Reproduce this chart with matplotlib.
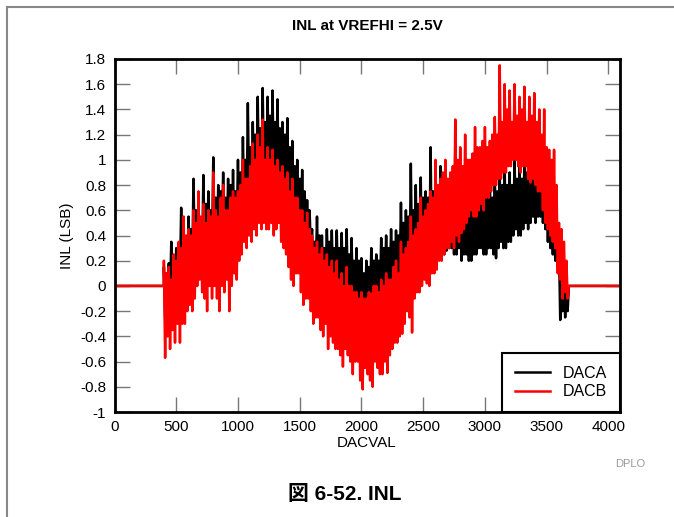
import numpy as np
import matplotlib
matplotlib.use("Agg")
import matplotlib.pyplot as plt

plt.rcParams["font.family"] = ["Liberation Sans", "DejaVu Sans"]

# peak samples sit at codes 400, 420, ..., 3660; trough samples 10 codes later
code_start = 400
code_stop = 3680
code_step = 20
code_full = 4095

daca_hi = [
    0.15, 0.1, 0.18, 0.35, 0.2, 0.3, 0.25, 0.62, 0.4, 0.35,
    0.55, 0.45, 0.85, 0.6, 0.7, 0.5, 0.88, 0.65, 0.75, 0.6,
    1.02, 0.7, 0.8, 0.75, 0.9, 0.7, 0.85, 0.8, 0.92, 0.75,
    1.0, 0.9, 1.18, 1.0, 1.45, 1.1, 1.3, 1.2, 1.5, 1.25,
    1.57, 1.3, 1.5, 1.35, 1.55, 1.3, 1.48, 1.25, 1.3, 1.2,
    1.33, 1.1, 1.15, 0.95, 1.0, 0.85, 0.92, 0.75, 0.68, 0.6,
    0.45, 0.35, 0.55, 0.4, 0.4, 0.3, 0.45, 0.35, 0.44, 0.3,
    0.44, 0.3, 0.42, 0.3, 0.45, 0.25, 0.38, 0.2, 0.3, 0.2,
    0.22, 0.1, 0.2, 0.15, 0.3, 0.2, 0.25, 0.2, 0.38, 0.3,
    0.4, 0.3, 0.45, 0.35, 0.44, 0.4, 0.66, 0.5, 0.6, 0.55,
    0.97, 0.6, 0.8, 0.65, 0.86, 0.7, 0.75, 0.7, 1.1, 0.75,
    0.9, 0.7, 0.95, 0.75, 0.85, 0.7, 0.8, 0.75, 1.1, 0.8,
    0.85, 0.7, 0.75, 0.65, 0.9, 0.7, 0.7, 0.65, 0.82, 0.7,
    0.92, 0.75, 0.85, 0.7, 0.9, 0.75, 0.88, 0.8, 0.94, 0.8,
    0.9, 0.8, 1.02, 0.85, 0.95, 0.85, 1.0, 0.9, 1.38, 1.0,
    1.38, 1.0, 1.3, 0.95, 0.9, 0.8, 0.74, 0.65, 0.6, 0.5,
    0.3, 0.1, 0.05, 0.0,
]
daca_lo = [
    -0.25, 0.0, -0.05, 0.05, 0.0, 0.1, 0.05, 0.1, 0.1, 0.12,
    0.15, 0.2, 0.25, 0.15, 0.2, 0.25, 0.3, 0.2, 0.25, 0.3,
    0.35, 0.3, 0.3, 0.4, 0.4, 0.35, 0.35, 0.4, 0.4, 0.45,
    0.5, 0.55, 0.65, 0.6, 0.7, 0.7, 0.75, 0.7, 0.8, 0.75,
    0.85, 0.8, 0.9, 0.85, 0.8, 0.8, 0.85, 0.75, 0.75, 0.7,
    0.7, 0.65, 0.6, 0.55, 0.5, 0.45, 0.45, 0.4, 0.4, 0.3,
    0.15, 0.1, 0.1, 0.05, 0.05, 0.1, 0.1, 0.0, 0.0, -0.05,
    0.0, -0.05, -0.05, -0.1, -0.05, -0.1, -0.1, -0.15, -0.1, -0.2,
    -0.2, -0.15, -0.15, -0.1, -0.1, -0.05, -0.05, -0.05, -0.05, 0.0,
    0.0, 0.05, 0.05, 0.0, 0.05, 0.1, 0.1, 0.1, 0.15, 0.1,
    0.15, 0.2, 0.2, 0.15, 0.2, 0.25, 0.25, 0.2, 0.2, 0.25,
    0.25, 0.3, 0.3, 0.25, 0.28, 0.3, 0.3, 0.25, 0.25, 0.3,
    0.2, 0.25, 0.25, 0.2, 0.2, 0.25, 0.25, 0.3, 0.3, 0.25,
    0.25, 0.3, 0.3, 0.25, 0.22, 0.3, 0.35, 0.3, 0.3, 0.35,
    0.35, 0.4, 0.45, 0.4, 0.4, 0.45, 0.5, 0.45, 0.5, 0.55,
    0.5, 0.55, 0.55, 0.5, 0.45, 0.35, 0.3, 0.25, 0.2, 0.15,
    -0.27, -0.2, -0.25, -0.2,
]

dacb_hi = [
    0.2, 0.1, 0.15, 0.05, 0.25, 0.2, 0.35, 0.3, 0.55, 0.4,
    0.45, 0.4, 0.6, 0.5, 0.75, 0.55, 0.65, 0.5, 0.6, 0.55,
    0.9, 0.6, 0.55, 0.7, 0.8, 0.6, 0.6, 0.7, 0.75, 0.7,
    0.75, 0.8, 1.0, 0.85, 0.85, 0.95, 1.13, 1.0, 1.2, 1.1,
    1.32, 1.0, 1.1, 1.0, 1.08, 0.95, 1.0, 0.9, 0.95, 0.85,
    0.9, 0.75, 0.85, 0.7, 0.7, 0.6, 0.6, 0.5, 0.58, 0.45,
    0.4, 0.3, 0.35, 0.25, 0.3, 0.2, 0.25, 0.15, 0.2, 0.1,
    0.2, 0.05, 0.1, 0.0, 0.15, 0.0, 0.0, -0.05, -0.05, -0.1,
    -0.05, -0.1, -0.1, -0.05, -0.06, 0.0, 0.0, -0.05, 0.05, 0.0,
    0.1, 0.05, 0.05, 0.15, 0.2, 0.1, 0.35, 0.25, 0.3, 0.35,
    0.55, 0.4, 0.45, 0.5, 0.7, 0.55, 0.6, 0.65, 0.75, 0.7,
    1.0, 0.8, 0.85, 0.9, 1.0, 0.85, 0.9, 0.95, 1.32, 1.0,
    1.1, 0.95, 1.2, 1.0, 1.0, 1.05, 1.26, 1.1, 1.1, 1.15,
    1.26, 1.1, 1.15, 1.2, 1.34, 1.2, 1.75, 1.3, 1.6, 1.4,
    1.55, 1.3, 1.6, 1.35, 1.5, 1.4, 1.58, 1.3, 1.5, 1.35,
    1.53, 1.3, 1.4, 1.2, 1.4, 1.1, 1.08, 1.0, 1.08, 0.8,
    0.5, 0.45, 0.35, 0.2,
]
dacb_lo = [
    -0.57, -0.4, -0.5, -0.35, -0.45, -0.3, -0.45, -0.3, -0.3, -0.2,
    -0.15, -0.2, -0.1, 0.0, 0.05, -0.05, -0.1, -0.2, 0.0, -0.1,
    0.0, -0.1, -0.2, 0.0, -0.05, 0.05, -0.2, 0.0, 0.1, 0.05,
    0.2, 0.25, 0.35, 0.3, 0.4, 0.35, 0.45, 0.4, 0.5, 0.45,
    0.5, 0.45, 0.45, 0.5, 0.4, 0.45, 0.5, 0.35, 0.3, 0.25,
    0.15, 0.05, 0.0, 0.1, 0.1, -0.05, -0.15, -0.1, -0.1, -0.2,
    -0.3, -0.25, -0.25, -0.35, -0.4, -0.3, -0.5, -0.4, -0.45, -0.5,
    -0.5, -0.55, -0.64, -0.5, -0.55, -0.6, -0.7, -0.6, -0.6, -0.75,
    -0.82, -0.65, -0.7, -0.75, -0.8, -0.6, -0.65, -0.7, -0.7, -0.6,
    -0.69, -0.55, -0.5, -0.45, -0.45, -0.4, -0.38, -0.3, -0.2, -0.25,
    -0.37, -0.1, -0.05, -0.05, 0.0, 0.05, 0.02, 0.0, 0.1, 0.1,
    0.13, 0.2, 0.2, 0.25, 0.3, 0.3, 0.35, 0.3, 0.4, 0.35,
    0.42, 0.45, 0.5, 0.55, 0.6, 0.55, 0.55, 0.6, 0.65, 0.6,
    0.7, 0.7, 0.75, 0.8, 0.8, 0.85, 0.85, 0.9, 0.9, 0.95,
    0.95, 1.0, 1.0, 0.95, 0.9, 0.95, 0.95, 0.85, 0.82, 0.85,
    0.8, 0.75, 0.75, 0.6, 0.5, 0.45, 0.4, 0.35, 0.3, 0.1,
    0.05, -0.1, -0.05, -0.1,
]

x_ticks = [0, 500, 1000, 1500, 2000, 2500, 3000, 3500, 4000]
y_ticks = [-1, -0.8, -0.6, -0.4, -0.2, 0, 0.2, 0.4, 0.6, 0.8, 1, 1.2, 1.4, 1.6, 1.8]
y_labels = ["-1", "-0.8", "-0.6", "-0.4", "-0.2", "0", "0.2", "0.4", "0.6",
            "0.8", "1", "1.2", "1.4", "1.6", "1.8"]


def build_trace(hi, lo):
    # interleave peak/trough samples, pad with the flat zero segments
    codes = np.arange(code_start, code_stop, code_step)
    x = np.empty(2 * len(codes))
    y = np.empty(2 * len(codes))
    x[0::2] = codes
    x[1::2] = codes + code_step // 2
    y[0::2] = hi
    y[1::2] = lo
    x = np.concatenate([[0, code_start], x, [code_stop, code_full]])
    y = np.concatenate([[0.0, 0.0], y, [0.0, 0.0]])
    return x, y


fig = plt.figure(figsize=(6.74, 5.17), dpi=100)
ax = fig.add_axes([114.5 / 674, 1 - 412 / 517, 505 / 674, 353 / 517])

xa, ya = build_trace(daca_hi, daca_lo)
xb, yb = build_trace(dacb_hi, dacb_lo)
ax.plot(xa, ya, color="black", lw=1.8, label="DACA")
ax.plot(xb, yb, color="#ff0000", lw=1.8, label="DACB")

ax.set_xlim(0, 4090)
ax.set_ylim(-1, 1.8)
ax.set_xticks(x_ticks)
ax.set_yticks(y_ticks)
ax.set_yticklabels(y_labels)
ax.tick_params(direction="in", length=11, width=1, color="#777777",
               top=True, right=True, labelsize=11, pad=6)
for s in ax.spines.values():
    s.set_linewidth(2)

ax.set_xlabel("DACVAL", fontsize=11, labelpad=1)
ax.set_ylabel("INL (LSB)", fontsize=11, labelpad=4)
ax.set_title("INL at VREFHI = 2.5V", fontsize=11, fontweight="bold", pad=21)

leg = ax.legend(loc="lower right", borderaxespad=0, fancybox=False,
                fontsize=11.5, handlelength=2.2, borderpad=0.8, labelspacing=0.2)
leg.get_frame().set_edgecolor("black")
leg.get_frame().set_linewidth(1.5)
leg.get_frame().set_alpha(1)

fig.text(645 / 674, 1 - 464 / 517, "DPLO", fontsize=8, color="#999999",
         ha="right", va="center")
fig.text(345 / 674, 1 - 494 / 517, "図 6-52. INL", fontsize=15, fontweight="bold",
         ha="center", va="center", family=["Liberation Sans", "Noto Sans CJK JP"])

# page frame lines
fig.add_artist(plt.Line2D([7 / 674, 1], [1 - 7 / 517, 1 - 7 / 517],
                          color="#888888", lw=1.5, transform=fig.transFigure))
fig.add_artist(plt.Line2D([7 / 674, 7 / 674], [0, 1 - 7 / 517],
                          color="#888888", lw=1.5, transform=fig.transFigure))

fig.savefig("out.png", dpi=100)
